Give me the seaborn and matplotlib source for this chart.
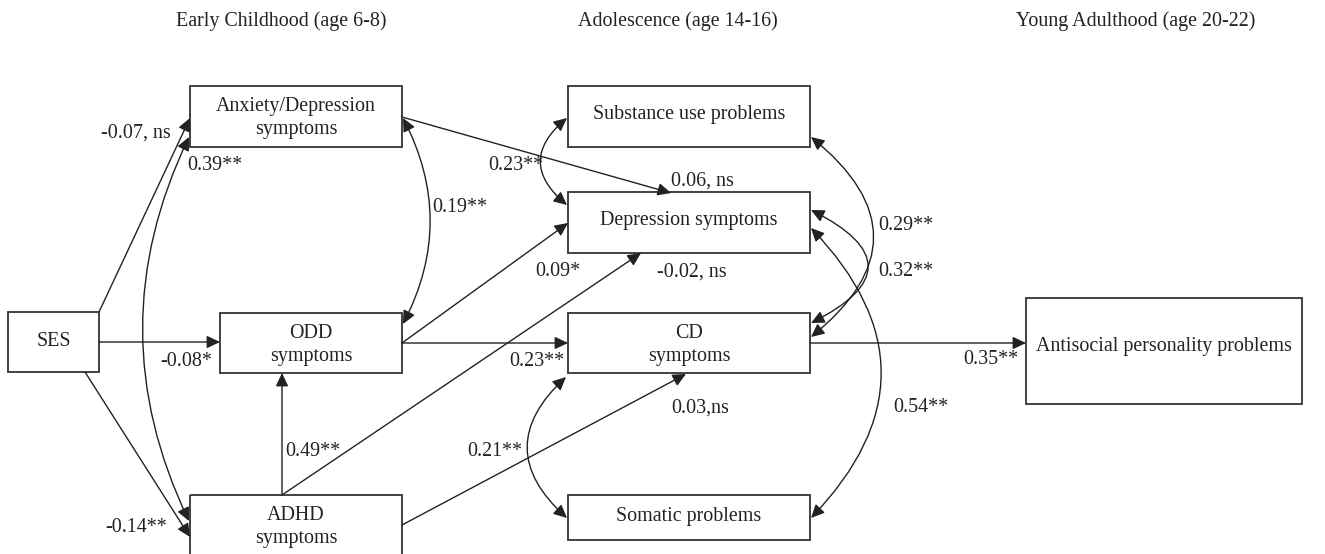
import matplotlib
matplotlib.use("Agg")
import matplotlib.pyplot as plt
from matplotlib.patches import Rectangle, FancyArrowPatch
import seaborn as sns

sns.set_theme(style="white")
plt.rcParams['font.family'] = ['Liberation Serif', 'DejaVu Serif']

# --- data ---
stages = ["Early Childhood (age 6-8)", "Adolescence (age 14-16)", "Young Adulthood (age 20-22)"]

nodes = ["SES", "AnxDep", "ODD", "ADHD", "Subst", "Dep", "CD", "Som", "ASPD"]
node_labels = ["SES", "Anxiety/Depression\nsymptoms", "ODD\nsymptoms", "ADHD\nsymptoms",
               "Substance use problems", "Depression symptoms", "CD\nsymptoms",
               "Somatic problems", "Antisocial personality problems"]

# directed paths
path_from = ["SES", "SES", "SES", "ADHD", "AnxDep", "ODD", "ADHD", "ODD", "ADHD", "CD"]
path_to = ["AnxDep", "ODD", "ADHD", "ODD", "Dep", "Dep", "Dep", "CD", "CD", "ASPD"]
path_coef = ["-0.07, ns", "-0.08*", "-0.14**", "0.49**", "0.06, ns", "0.09*",
             "-0.02, ns", "0.23**", "0.03,ns", "0.35**"]

# correlations (double-headed)
corr_a = ["AnxDep", "AnxDep", "Subst", "CD", "Subst", "Dep", "Dep"]
corr_b = ["ADHD", "ODD", "Dep", "Som", "CD", "CD", "Som"]
corr_coef = ["0.39**", "0.19**", "0.23**", "0.21**", "0.29**", "0.32**", "0.54**"]

# --- layout (pixels, y down) ---
stage_x = [281, 678, 1136]
boxes = {  # x0, y0, x1, y1, text y
    "SES": (8, 312, 99, 372, 342),
    "AnxDep": (190, 86, 402, 147, 118),
    "ODD": (220, 313, 402, 373, 345),
    "ADHD": (190, 495, 402, 562, 527),
    "Subst": (568, 86, 810, 147, 114),
    "Dep": (568, 192, 810, 253, 220),
    "CD": (568, 313, 810, 373, 345),
    "Som": (568, 495, 810, 540, 517),
    "ASPD": (1026, 298, 1302, 404, 346),
}
path_pts = [((99, 312), (190, 118)), ((99, 342), (220, 342)), ((85, 372), (190, 537)),
            ((282, 495), (282, 373)), ((402, 117), (671, 193)), ((402, 343), (568, 223)),
            ((282, 495), (641, 253)), ((402, 343), (568, 343)), ((402, 525), (686, 374)),
            ((810, 343), (1026, 343))]
path_lab = [(171, 133, "right"), (212, 362, "right"), (167, 528, "right"), (285, 452, "left"),
            (671, 181, "left"), (535, 272, "left"), (657, 272, "left"), (564, 362, "right"),
            (671, 408, "left"), (1018, 360, "right")]
corr_pts = [((189, 137), (189, 521)), ((403, 118), (403, 324)), ((567, 118), (567, 205)),
            ((566, 377), (567, 518)), ((811, 137), (811, 337)), ((811, 210), (811, 323)),
            ((811, 228), (811, 518))]
corr_rad = [0.24, -0.26, 0.6, 0.55, -0.62, -1.0, -0.48]
corr_lab = [(187, 166, "left"), (432, 208, "left"), (543, 165, "right"), (467, 452, "left"),
            (878, 225, "left"), (878, 271, "left"), (893, 407, "left")]

ink = "#222222"
fs = 14.4

fig = plt.figure(figsize=(13.25, 5.54), dpi=100)
ax = fig.add_axes([0, 0, 1, 1])
ax.set_xlim(0, 1325)
ax.set_ylim(554, 0)
ax.axis("off")

for sx, s in zip(stage_x, stages):
    ax.text(sx, 21, s, ha="center", va="center", fontsize=fs, color=ink)

for n, lab in zip(nodes, node_labels):
    x0, y0, x1, y1, ty = boxes[n]
    ax.add_patch(Rectangle((x0, y0), x1 - x0, y1 - y0, fill=False, ec="#333333", lw=1.3))
    ax.text((x0 + x1) / 2, ty, lab, ha="center", va="center", fontsize=fs,
            color=ink, linespacing=1.3)

astyle = "-|>,head_length=0.8,head_width=0.38"
for (p0, p1), (lx, ly, ha), c in zip(path_pts, path_lab, path_coef):
    ax.add_patch(FancyArrowPatch(p0, p1, arrowstyle=astyle, mutation_scale=10,
                                 shrinkA=0, shrinkB=0, lw=1.0, color=ink))
    ax.text(lx, ly, c, ha=ha, va="center", fontsize=fs, color=ink)

dstyle = "<|-|>,head_length=0.8,head_width=0.38"
for (p0, p1), r, (lx, ly, ha), c in zip(corr_pts, corr_rad, corr_lab, corr_coef):
    ax.add_patch(FancyArrowPatch(p0, p1, arrowstyle=dstyle, mutation_scale=10,
                                 connectionstyle=f"arc3,rad={r}",
                                 shrinkA=0, shrinkB=0, lw=1.0, color=ink))
    ax.text(lx, ly, c, ha=ha, va="center", fontsize=fs, color=ink)

fig.savefig("out.png", dpi=100, facecolor="white")
